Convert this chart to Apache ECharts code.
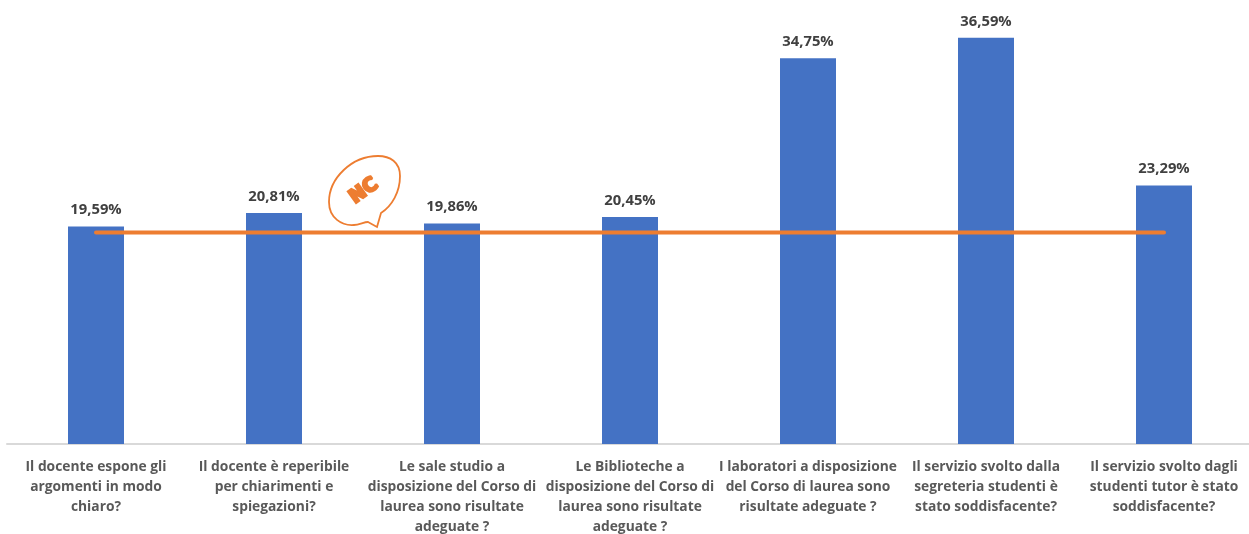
<!DOCTYPE html>
<html lang="en">
<head>
    <meta charset="UTF-8">
    <title>Questionario studenti</title>
    <script src="https://cdn.jsdelivr.net/npm/echarts@6/dist/echarts.min.js"></script>
    <style>
        html, body { margin: 0; padding: 0; background: #fff; }
    </style>
</head>
<body>
<div id="myChart" style="width: 1249px;height: 534px;"></div>
<script>
    var categories = [
        'Il docente espone gli\nargomenti in modo\nchiaro?',
        'Il docente è reperibile\nper chiarimenti e\nspiegazioni?',
        'Le sale studio a\ndisposizione del Corso di\nlaurea sono risultate\nadeguate ?',
        'Le Biblioteche a\ndisposizione del Corso di\nlaurea sono risultate\nadeguate ?',
        'I laboratori a disposizione\ndel Corso di laurea sono\nrisultate adeguate ?',
        'Il servizio svolto dalla\nsegreteria studenti è\nstato soddisfacente?',
        'Il servizio svolto dagli\nstudenti tutor è stato\nsoddisfacente?'
    ];
    var barValues = [19.59, 20.81, 19.86, 20.45, 34.75, 36.59, 23.29];
    var lineValues = [19.05, 19.05, 19.05, 19.05, 19.05, 19.05, 19.05];

    // speech bubble of the logo, graphic has no plain 'path' type
    echarts.graphic.registerShape('ncBubble', echarts.graphic.extendPath(
        'M368 222 L377 227 L381 213 C392 206 400 192 400 176 C400 162 390 156 378 156 C352 156 329 178 329 202 C329 218 342 226 354 225 C359 225 364 222 368 222 Z', {}
    ));

    var fontName = '"Open Sans", sans-serif';
    var myChart = echarts.init(document.getElementById('myChart'));
    var option = {
        animation: false,
        grid: { left: 7, top: 0, width: 1246, height: 444, outerBoundsMode: 'none' },
        xAxis: {
            type: 'category',
            data: categories,
            axisLine: { lineStyle: { color: '#D9D9D9', width: 2 } },
            axisTick: { show: false },
            axisLabel: {
                interval: 0,
                margin: 13,
                color: '#595959',
                fontFamily: fontName,
                fontSize: 13.8,
                fontWeight: 700,
                lineHeight: 20,
                align: 'center'
            }
        },
        yAxis: { type: 'value', min: 0, max: 40, show: false },
        series: [
            {
                type: 'bar',
                data: barValues,
                barWidth: 56,
                itemStyle: { color: '#4472C4' },
                label: {
                    show: true,
                    position: 'top',
                    distance: 9,
                    color: '#404040',
                    fontFamily: fontName,
                    fontSize: 14.8,
                    fontWeight: 700,
                    formatter: function (p) {
                        return p.value.toFixed(2).replace('.', ',') + '%';
                    }
                }
            },
            {
                type: 'line',
                data: lineValues,
                symbol: 'none',
                z: 5,
                lineStyle: { color: '#ED7D31', width: 4, cap: 'round' }
            }
        ],
        graphic: [
            {
                type: 'ncBubble',
                z: 10,
                style: { fill: '#fff', stroke: '#ED7D31', lineWidth: 1.8 }
            },
            {
                type: 'text',
                z: 11,
                x: 364,
                y: 191,
                rotation: 0.62,
                style: {
                    text: 'NC',
                    fill: '#ED7D31',
                    stroke: '#ED7D31',
                    lineWidth: 2.5,
                    lineJoin: 'round',
                    font: '900 19px "DejaVu Sans", sans-serif',
                    align: 'center',
                    verticalAlign: 'middle'
                }
            }
        ]
    };
    myChart.setOption(option);
</script>
</body>
</html>
